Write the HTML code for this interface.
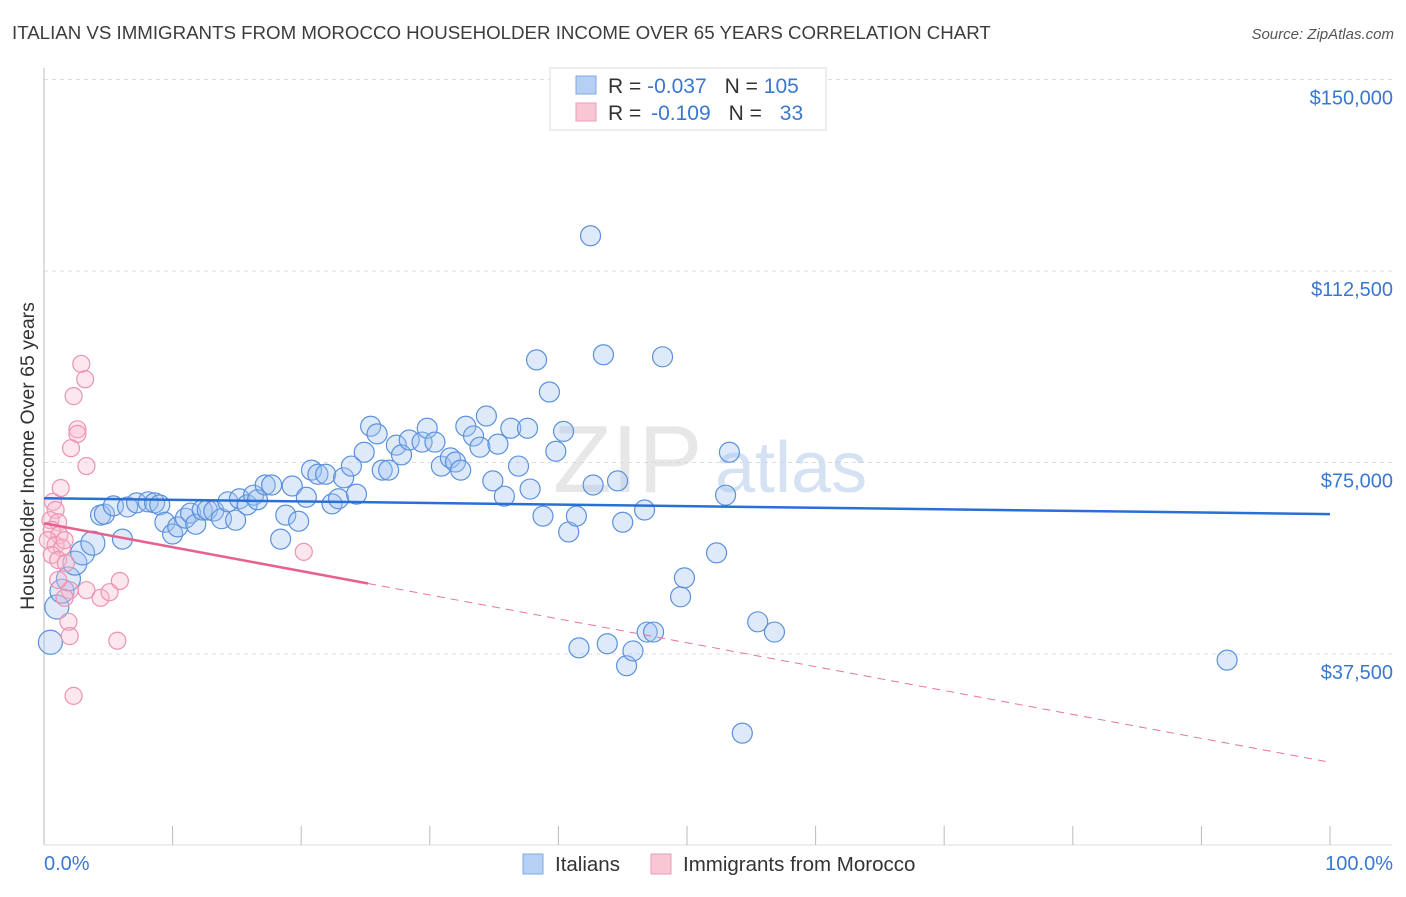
<!DOCTYPE html>
<html><head><meta charset="utf-8"><style>
body{margin:0;background:#fff;font-family:"Liberation Sans",sans-serif;}
svg text{font-family:"Liberation Sans",sans-serif;}
</style></head><body>
<svg id="chart" width="1406" height="892" viewBox="0 0 1406 892" xmlns="http://www.w3.org/2000/svg">
<text x="12" y="39" font-size="18.7" fill="#3c3c3c">ITALIAN VS IMMIGRANTS FROM MOROCCO HOUSEHOLDER INCOME OVER 65 YEARS CORRELATION CHART</text>
<text x="1394" y="39" font-size="15" fill="#555" text-anchor="end" font-style="italic">Source: ZipAtlas.com</text>
<g id="grid"></g>
<g><text x="553" y="492" font-size="96" fill="#d8d8d8" font-family="Liberation Serif" opacity="0.6">ZIP</text><text x="715" y="492" font-size="72" fill="#b8d0ee" opacity="0.6">atlas</text></g>
<line x1="44" y1="68" x2="44" y2="845" stroke="#bbb"/>
<line x1="44" y1="845" x2="1392" y2="845" stroke="#ddd"/>
<g id="ticks"></g>
<g id="pts"></g>
<g id="trends"></g>
<text transform="translate(34,456) rotate(-90)" font-size="19.5" fill="#333" text-anchor="middle">Householder Income Over 65 years</text>
<text x="44" y="870" font-size="20" fill="#3a78d0">0.0%</text>
<text x="1393" y="870" font-size="20" fill="#3a78d0" text-anchor="end">100.0%</text>
<g>
<rect x="550" y="68" width="276" height="62" fill="#fff" stroke="#ddd"/>
<rect x="576" y="76" width="20" height="18" fill="#b6d0f4" stroke="#7ea9e6"/>
<rect x="576" y="103" width="20" height="18" fill="#f9c6d4" stroke="#eb9cb6"/>
<text x="608" y="93" font-size="21" fill="#333">R = <tspan fill="#3a78d0">-0.037</tspan><tspan dx="18">N = </tspan><tspan fill="#3a78d0">105</tspan></text>
<text x="608" y="120" font-size="21" fill="#333">R = <tspan fill="#3a78d0" dx="4">-0.109</tspan><tspan dx="18">N = </tspan><tspan fill="#3a78d0" dx="12">33</tspan></text>
</g>
<g><rect x="523" y="854" width="20" height="20" fill="#b6d0f4" stroke="#7ea9e6"/><text x="555" y="871" font-size="20.5" fill="#333">Italians</text></g>
<g><rect x="651" y="854" width="20" height="20" fill="#f9c6d4" stroke="#eb9cb6"/><text x="683" y="871" font-size="20.5" fill="#333">Immigrants from Morocco</text></g>
</svg>
<script>
const yTicks=[37500,75000,112500,150000];
const yTickLabels=["$37,500","$75,000","$112,500","$150,000"];
const blueX=[0.5,1.0,1.4,1.9,2.4,3.0,3.8,6.1,4.4,4.7,5.4,6.5,7.2,8.1,8.6,9.0,9.4,10.0,10.4,11.0,11.4,11.8,12.3,12.7,13.2,13.8,14.3,14.9,15.2,15.8,16.3,16.6,17.2,17.7,18.4,18.8,19.3,19.8,20.4,20.8,21.3,21.9,22.4,22.9,23.3,23.9,24.3,24.9,25.4,25.9,26.3,26.8,27.4,27.8,28.4,29.4,29.8,30.4,30.9,31.6,32.0,32.4,32.8,33.4,33.9,34.4,34.9,35.3,35.8,36.3,36.9,37.6,37.8,38.3,38.8,39.3,39.8,40.4,40.8,41.4,41.6,42.5,42.7,43.5,43.8,44.6,45.0,45.3,45.8,46.7,46.9,47.4,48.1,49.5,49.8,52.3,53.0,53.3,54.3,55.5,56.8,92.0];
const blueY=[39.8,46.7,49.8,52.2,55.3,57.3,59.2,60.0,64.7,64.9,66.5,66.3,67.1,67.3,67.1,66.7,63.3,61.0,62.4,64.1,65.1,62.9,65.7,65.7,65.5,64.0,67.3,63.7,67.9,66.7,68.6,67.7,70.6,70.6,60.0,64.7,70.4,63.5,68.2,73.5,72.7,72.7,66.9,67.9,72.0,74.3,68.8,77.0,82.1,80.6,73.5,73.5,78.4,76.5,79.4,79.0,81.7,79.0,74.3,75.9,75.1,73.5,82.1,80.2,78.0,84.1,71.4,78.6,68.4,81.7,74.3,81.7,69.8,95.1,64.5,88.8,77.2,81.1,61.4,64.5,38.7,119.4,70.6,96.1,39.5,71.4,63.3,35.2,38.1,65.7,41.8,41.8,95.7,48.7,52.4,57.3,68.6,77.0,22.0,43.8,41.8,36.3];
const pinkX=[0.7,0.9,0.5,1.1,0.6,1.2,0.3,0.9,1.4,0.6,1.1,1.3,1.7,2.0,1.6,1.9,2.0,2.3,2.3,2.9,3.2,2.6,2.6,2.1,3.3,3.3,4.4,5.1,5.9,5.7,20.2,1.6,1.1];
const pinkY=[67.3,65.7,63.7,63.3,61.8,60.8,59.8,58.8,58.3,56.9,55.9,70.0,55.3,50.0,48.5,43.8,41.0,29.3,88.0,94.3,91.3,81.5,80.6,77.8,74.3,50.0,48.5,49.6,51.8,40.1,57.5,59.8,52.0];
const blueTrend=[68.0,64.9]; // income (k) at 0% and 100%
const pinkTrend=[63.1,16.3]; const pinkSolidEnd=25.2;
const X0=44,X1=1330,Y0=845.5,PXK=191.5/37.5;
const sx=v=>X0+(X1-X0)*v/100, sy=k=>Y0-k*PXK;
const NS="http://www.w3.org/2000/svg";
function mk(tag,attrs,parent){const e=document.createElementNS(NS,tag);for(const k in attrs)e.setAttribute(k,attrs[k]);parent.appendChild(e);return e;}
const grid=document.getElementById('grid');
yTicks.forEach((t,i)=>{
 const y=sy(t/1000);
 const l=mk('line',{x1:44,x2:1392,y1:y,y2:y,stroke:'#ddd','stroke-dasharray':'4,4'},grid);
 
 
 const tx=mk('text',{x:1393,y:y+25,'font-size':20,fill:'#3a78d0','text-anchor':'end'},grid);
 tx.textContent=yTickLabels[i];
 
 
});
const ticks=document.getElementById('ticks');
for(let i=0;i<=10;i++){
 const x=sx(i*10);
 const l=mk('line',{x1:x,x2:x,y1:826,y2:845,stroke:'#bbb'},ticks);
 
 
}
const pts=document.getElementById('pts');
blueX.forEach((v,i)=>{
 const r=v<4?12:10;
 const c=mk('circle',{cx:sx(v),cy:sy(blueY[i]),r:r,fill:'rgba(160,196,240,0.35)',stroke:'#5b91dc','stroke-width':1.2},pts);
 
 
});
pinkX.forEach((v,i)=>{
 const c=mk('circle',{cx:sx(v),cy:sy(pinkY[i]),r:8.5,fill:'rgba(248,185,205,0.35)',stroke:'#ec93b0','stroke-width':1.2},pts);
 
 
});
const tr=document.getElementById('trends');
const bl=mk('line',{x1:sx(0),y1:sy(blueTrend[0]),x2:sx(100),y2:sy(blueTrend[1]),stroke:'#2a6fd6','stroke-width':2.5},tr);


const pAt=v=>pinkTrend[0]+(pinkTrend[1]-pinkTrend[0])*v/100;
const ps=mk('line',{x1:sx(0),y1:sy(pAt(0)),x2:sx(pinkSolidEnd),y2:sy(pAt(pinkSolidEnd)),stroke:'#e8608c','stroke-width':2.5},tr);


const pd=mk('line',{x1:sx(pinkSolidEnd),y1:sy(pAt(pinkSolidEnd)),x2:sx(100),y2:sy(pAt(100)),stroke:'#e8759a','stroke-width':1,'stroke-dasharray':'8,6'},tr);


</script>
</body></html>
